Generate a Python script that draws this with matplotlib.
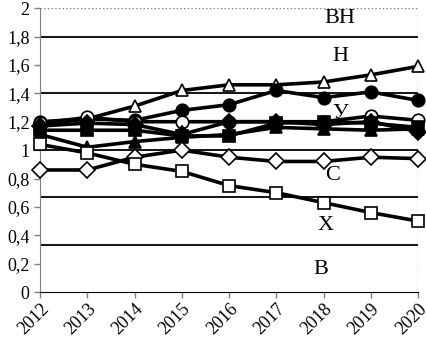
import matplotlib
matplotlib.use("Agg")
import matplotlib.pyplot as plt

years = [2012, 2013, 2014, 2015, 2016, 2017, 2018, 2019, 2020]

tri_open = [1.18, 1.22, 1.31, 1.42, 1.46, 1.46, 1.48, 1.53, 1.59]
circ_fill = [1.20, 1.22, 1.21, 1.28, 1.32, 1.42, 1.37, 1.41, 1.35]
circ_open = [1.19, 1.23, 1.20, 1.20, 1.20, 1.20, 1.20, 1.24, 1.21]
diam_fill = [1.17, 1.19, 1.18, 1.11, 1.20, 1.20, 1.18, 1.20, 1.13]
sq_fill = [1.14, 1.14, 1.14, 1.10, 1.10, 1.19, 1.20, 1.19, 1.16]
tri_fill = [1.11, 1.02, 1.06, 1.09, 1.11, 1.16, 1.15, 1.14, 1.15]
diam_open = [0.86, 0.86, 0.95, 1.00, 0.95, 0.92, 0.92, 0.95, 0.94]
sq_open = [1.04, 0.98, 0.90, 0.85, 0.75, 0.70, 0.63, 0.56, 0.50]

bounds = [1.8, 1.4, 1.0, 0.667, 0.333]
zone_labels = ["ВН", "Н", "У", "С", "Х", "В"]
zone_label_pos = [(2018.35, 1.93), (2018.35, 1.66), (2018.35, 1.26), (2018.2, 0.82), (2018.05, 0.47), (2017.95, 0.16)]

plt.rcParams["font.family"] = ["Liberation Serif", "DejaVu Serif"]

fig = plt.figure(figsize=(4.27, 3.4), dpi=100)
ax = fig.add_axes([0.094, 0.141, 0.885, 0.835])

for b in bounds:
    ax.axhline(b, color="black", lw=1.3, zorder=1)
ax.axhline(2.0, color="gray", lw=1, ls=":", zorder=1)
ax.axvline(2020, color="gray", lw=1, ls=":", zorder=1)

series = [
    (tri_open, "^", "white"),
    (circ_fill, "o", "black"),
    (circ_open, "o", "white"),
    (diam_fill, "D", "black"),
    (sq_fill, "s", "black"),
    (tri_fill, "^", "black"),
    (diam_open, "D", "white"),
    (sq_open, "s", "white"),
]
for vals, m, fc in series:
    ms = 8 if m == "D" else 9
    ax.plot(years, vals, color="black", lw=2.6, marker=m, ms=ms,
            mfc=fc, mec="black", mew=1.2, zorder=3, clip_on=False)

for lab, (x, y) in zip(zone_labels, zone_label_pos):
    ax.text(x, y, lab, fontsize=16, ha="center", va="center", zorder=2)

ax.set_xlim(2012, 2020)
ax.set_ylim(0, 2)
ax.set_xticks(years)
ax.set_xticklabels([str(y) for y in years], rotation=45, ha="right", rotation_mode="anchor", fontsize=13)
ax.set_yticks([0, 0.2, 0.4, 0.6, 0.8, 1.0, 1.2, 1.4, 1.6, 1.8, 2.0])
ax.set_yticklabels(["0", "0,2", "0,4", "0,6", "0,8", "1", "1,2", "1,4", "1,6", "1,8", "2"], fontsize=13)
ax.tick_params(direction="out", length=4, width=1, color="gray")
ax.tick_params(axis="x", pad=2)
for s in ["top", "right"]:
    ax.spines[s].set_visible(False)
ax.spines["left"].set_color("gray")
ax.spines["bottom"].set_color("black")

fig.savefig("out.png", dpi=100)
